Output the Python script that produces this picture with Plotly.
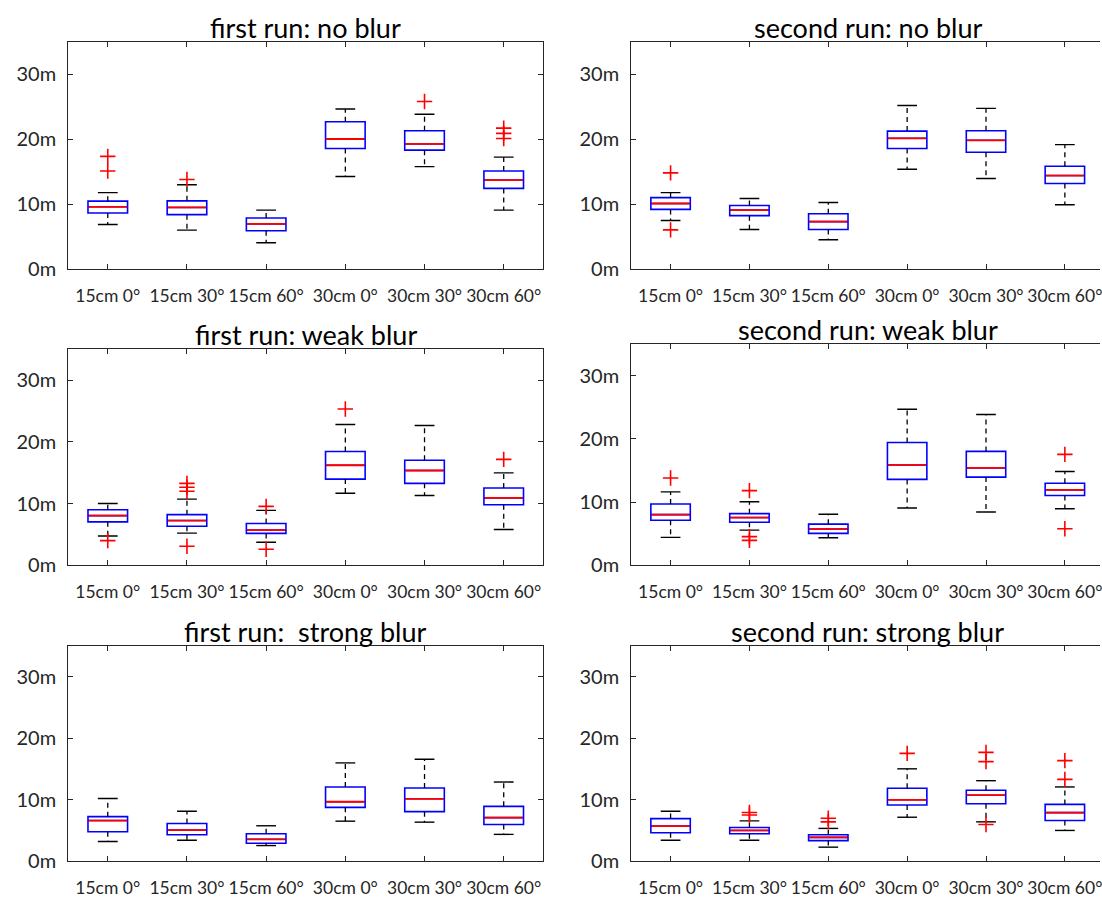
import plotly.graph_objects as go

# ---------------- data (metres) ----------------
CATEGORIES = ["15cm 0°", "15cm 30°", "15cm 60°", "30cm 0°", "30cm 30°", "30cm 60°"]
Y_TICKS = [0, 10, 20, 30]
Y_TICK_LABELS = ["0m", "10m", "20m", "30m"]
TITLES = ["first run: no blur", "second run: no blur",
          "first run: weak blur", "second run: weak blur",
          "first run:  strong blur", "second run: strong blur"]

# first run: no blur
r1_none_lower = [6.85, 5.98, 4.05, 14.25, 15.77, 9.07]
r1_none_q1 = [8.62, 8.37, 5.88, 18.57, 18.31, 12.42]
r1_none_med = [9.58, 9.48, 6.94, 20.03, 19.27, 13.70]
r1_none_q3 = [10.45, 10.50, 7.86, 22.68, 21.30, 15.10]
r1_none_upper = [11.77, 12.98, 9.07, 24.65, 23.84, 17.24]
r1_none_out = [[17.35, 15.1], [13.8], [], [], [25.8], [21.7, 20.9, 20.1]]

# second run: no blur
r2_none_lower = [7.46, 6.09, 4.51, 15.37, 13.94, 9.89]
r2_none_q1 = [9.18, 8.22, 6.09, 18.57, 18.00, 13.18]
r2_none_med = [10.09, 9.07, 7.30, 20.14, 19.83, 14.40]
r2_none_q3 = [11.00, 9.79, 8.52, 21.25, 21.30, 15.83]
r2_none_upper = [11.77, 10.85, 10.24, 25.20, 24.75, 19.17]
r2_none_out = [[14.81, 6.03], [], [], [], [], []]

# first run: weak blur
r1_weak_lower = [4.74, 5.22, 3.73, 11.68, 11.30, 5.81]
r1_weak_q1 = [7.04, 6.34, 5.17, 13.97, 13.28, 9.81]
r1_weak_med = [8.05, 7.25, 5.70, 16.21, 15.36, 10.93]
r1_weak_q3 = [9.01, 8.21, 6.77, 18.45, 17.01, 12.53]
r1_weak_upper = [10.02, 10.72, 8.90, 22.82, 22.66, 14.98]
r1_weak_out = [[4.0], [13.28, 12.64, 12.0, 3.09], [9.54, 2.61], [25.33], [], [17.17]]

# second run: weak blur
r2_weak_lower = [4.42, 5.57, 4.37, 9.06, 8.43, 8.95]
r2_weak_q1 = [7.13, 6.82, 5.05, 13.59, 13.95, 11.03]
r2_weak_med = [8.02, 7.55, 5.73, 15.88, 15.41, 11.92]
r2_weak_q3 = [9.69, 8.17, 6.51, 19.42, 18.02, 12.97]
r2_weak_upper = [11.61, 10.05, 8.07, 24.68, 23.85, 14.84]
r2_weak_out = [[13.8], [11.81, 4.53, 3.95], [], [], [], [17.55, 5.78]]

# first run: strong blur
r1_strong_lower = [3.17, 3.38, 2.52, 6.49, 6.33, 4.34]
r1_strong_q1 = [4.77, 4.29, 2.89, 8.74, 8.04, 5.95]
r1_strong_med = [6.59, 5.04, 3.54, 9.65, 10.13, 7.07]
r1_strong_q3 = [7.23, 6.11, 4.45, 12.06, 11.90, 8.90]
r1_strong_upper = [10.19, 8.10, 5.74, 15.98, 16.56, 12.86]
r1_strong_out = [[], [], [], [], [], []]

# second run: strong blur
r2_strong_lower = [3.38, 3.38, 2.26, 7.13, 6.38, 4.98]
r2_strong_q1 = [4.61, 4.45, 3.33, 9.12, 9.33, 6.59]
r2_strong_med = [5.69, 4.98, 3.86, 9.97, 10.72, 7.88]
r2_strong_q3 = [6.91, 5.47, 4.29, 11.85, 11.53, 9.22]
r2_strong_upper = [8.10, 6.54, 5.31, 15.01, 13.08, 12.06]
r2_strong_out = [[], [7.9, 7.5], [6.97, 6.38], [17.53], [17.69, 16.19, 5.95], [16.35, 13.3]]

PANELS = [
    (r1_none_lower, r1_none_q1, r1_none_med, r1_none_q3, r1_none_upper, r1_none_out),
    (r2_none_lower, r2_none_q1, r2_none_med, r2_none_q3, r2_none_upper, r2_none_out),
    (r1_weak_lower, r1_weak_q1, r1_weak_med, r1_weak_q3, r1_weak_upper, r1_weak_out),
    (r2_weak_lower, r2_weak_q1, r2_weak_med, r2_weak_q3, r2_weak_upper, r2_weak_out),
    (r1_strong_lower, r1_strong_q1, r1_strong_med, r1_strong_q3, r1_strong_upper, r1_strong_out),
    (r2_strong_lower, r2_strong_q1, r2_strong_med, r2_strong_q3, r2_strong_upper, r2_strong_out),
]

# ---------------- layout geometry ----------------
W, H = 1102, 900
LEFT_X = [68.3 / W, 544.3 / W]
RIGHT_X = [632.3 / W, 1.0]
ROW_Y = {
    0: ([1 - 272.3 / H, 1 - 42.4 / H], [1 - 272.3 / H, 1 - 42.4 / H]),
    1: ([1 - 572.3 / H, 1 - 353.6 / H], [1 - 572.3 / H, 1 - 348.3 / H]),
    2: ([1 - 871.7 / H, 1 - 654.0 / H], [1 - 871.7 / H, 1 - 654.0 / H]),
}
RIGHT_RANGE_END = 0.5 + (W - 632.3) / 79.0

FONT = "Lato"
AX_COLOR = "#262626"
BOX_W = 0.5
CAP_W = 0.25

fig = go.Figure()
pos = list(range(1, len(CATEGORIES) + 1))

for k, (lower, q1, med, q3, upper, outs) in enumerate(PANELS):
    n = k + 1
    xa = "x" if n == 1 else f"x{n}"
    ya = "y" if n == 1 else f"y{n}"

    # whiskers (dashed)
    wx, wy = [], []
    for p, lo, a, b, hi in zip(pos, lower, q1, q3, upper):
        wx += [p, p, None, p, p, None]
        wy += [b, hi, None, a, lo, None]
    fig.add_trace(go.Scatter(x=wx, y=wy, mode="lines", xaxis=xa, yaxis=ya,
                             line=dict(color="black", width=1.3, dash="5px,4px"),
                             hoverinfo="skip"))
    # whisker caps
    cx, cy = [], []
    for p, lo, hi in zip(pos, lower, upper):
        cx += [p - CAP_W / 2, p + CAP_W / 2, None, p - CAP_W / 2, p + CAP_W / 2, None]
        cy += [hi, hi, None, lo, lo, None]
    fig.add_trace(go.Scatter(x=cx, y=cy, mode="lines", xaxis=xa, yaxis=ya,
                             line=dict(color="black", width=1.4), hoverinfo="skip"))
    # boxes
    fig.add_trace(go.Box(x=pos, q1=q1, median=med, q3=q3, lowerfence=q1, upperfence=q3,
                         xaxis=xa, yaxis=ya, width=BOX_W, whiskerwidth=0,
                         boxpoints=False, fillcolor="rgba(0,0,0,0)",
                         line=dict(color="#0000ff", width=1.6), hoverinfo="skip"))
    # medians
    mx, my = [], []
    for p, m in zip(pos, med):
        mx += [p - BOX_W / 2 + 0.01, p + BOX_W / 2 - 0.01, None]
        my += [m, m, None]
    fig.add_trace(go.Scatter(x=mx, y=my, mode="lines", xaxis=xa, yaxis=ya,
                             line=dict(color="#ff0000", width=1.8), hoverinfo="skip"))
    # outliers
    ox, oy = [], []
    for p, vals in zip(pos, outs):
        for v in vals:
            ox.append(p)
            oy.append(v)
    fig.add_trace(go.Scatter(x=ox, y=oy, mode="markers", xaxis=xa, yaxis=ya,
                             marker=dict(symbol="cross-thin", size=11,
                                         line=dict(color="#ff0000", width=1.6)),
                             hoverinfo="skip"))

    row, col = k // 2, k % 2
    xdom = LEFT_X if col == 0 else RIGHT_X
    ydom = ROW_Y[row][col]
    xr = [0.5, 6.5] if col == 0 else [0.5, RIGHT_RANGE_END]
    xkey = "xaxis" if n == 1 else f"xaxis{n}"
    ykey = "yaxis" if n == 1 else f"yaxis{n}"
    fig.update_layout(**{
        xkey: dict(domain=xdom, anchor=ya, range=xr, tickmode="array",
                   tickvals=pos, ticktext=CATEGORIES, ticks="inside", ticklen=5,
                   tickwidth=1, tickcolor=AX_COLOR, showline=True, linecolor=AX_COLOR,
                   linewidth=1, mirror="ticks", showgrid=False, zeroline=False,
                   tickfont=dict(family=FONT, size=17.5, color=AX_COLOR),
                   ticklabelstandoff=11, ticklabeloverflow="allow",
                   fixedrange=True),
        ykey: dict(domain=ydom, anchor=xa, range=[0, 35], tickmode="array",
                   tickvals=Y_TICKS, ticktext=Y_TICK_LABELS, ticks="inside", ticklen=5,
                   tickwidth=1, tickcolor=AX_COLOR, showline=True, linecolor=AX_COLOR,
                   linewidth=1, mirror=("ticks" if col == 0 else False),
                   showgrid=False, zeroline=False,
                   tickfont=dict(family=FONT, size=20, color=AX_COLOR),
                   ticklabelstandoff=7, ticklabeloverflow="allow",
                   fixedrange=True),
    })
    fig.add_annotation(text=TITLES[k], xref=xa, x=3.5, yref=f"{ya} domain", y=1,
                       xanchor="center", yanchor="bottom", showarrow=False, yshift=-4,
                       font=dict(family=FONT, size=27, color="black"))

fig.update_layout(width=W, height=H, margin=dict(l=0, r=0, t=0, b=0),
                  paper_bgcolor="white", plot_bgcolor="white", showlegend=False)

fig.write_html("out.html", config={"displayModeBar": False},
               post_script="document.body.style.margin='0px';")
